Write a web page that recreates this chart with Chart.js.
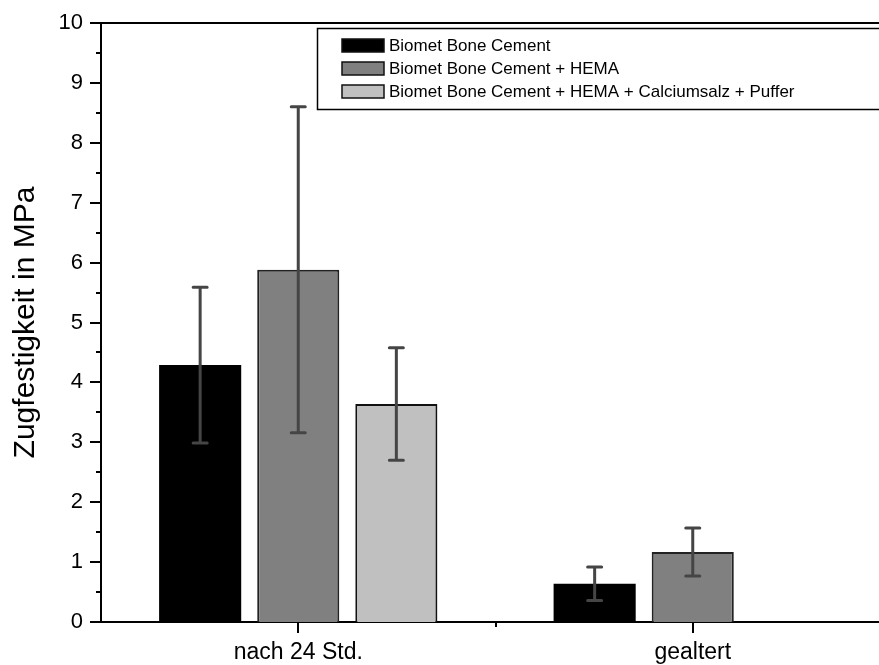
<!DOCTYPE html>
<html>
<head>
<meta charset="utf-8">
<script src="https://cdn.jsdelivr.net/npm/chart.js@4/dist/chart.umd.min.js"></script>
<style>
    html, body { margin:0; padding:0; background:#fff; overflow:hidden; }
    #wrap { width:879px; height:665px; overflow:hidden; }
</style>
</head>
<body>
<div id="wrap"><canvas id="chart" width="890" height="665"></canvas></div>
<script>
// =========================================
// Daten
// =========================================
const categories = ['nach 24 Std.', 'gealtert'];
const seriesLabels = [
    'Biomet Bone Cement',
    'Biomet Bone Cement + HEMA',
    'Biomet Bone Cement + HEMA + Calciumsalz + Puffer'
];
const boneCement = [4.29, 0.64];
const boneCementErr = [1.30, 0.28];
const hema = [5.88, 1.17];
const hemaErr = [2.72, 0.40];
const calcium = [3.64, null];
const calciumErr = [0.94, null];
const yTicks = [0, 1, 2, 3, 4, 5, 6, 7, 8, 9, 10];

const FONT = '"Liberation Sans", Arial, sans-serif';
const errors = [boneCementErr, hemaErr, calciumErr];

// =========================================
// Fehlerbalken, Achsen-Ticks, Legende
// =========================================
const extrasPlugin = {
    id: 'extras',
    afterDatasetsDraw(chart) {
        const ctx = chart.ctx;
        const y = chart.scales.y;
        ctx.save();
        ctx.strokeStyle = '#454545';
        ctx.lineWidth = 3;
        ctx.lineCap = 'round';
        chart.data.datasets.forEach((ds, i) => {
            const meta = chart.getDatasetMeta(i);
            meta.data.forEach((bar, j) => {
                const v = ds.data[j], e = errors[i][j];
                if (v === null || e === null) return;
                const x = bar.x;
                const yTop = y.getPixelForValue(v + e);
                const yBot = y.getPixelForValue(v - e);
                ctx.beginPath();
                ctx.moveTo(x, yTop); ctx.lineTo(x, yBot);
                ctx.moveTo(x - 7, yTop); ctx.lineTo(x + 7, yTop);
                ctx.moveTo(x - 7, yBot); ctx.lineTo(x + 7, yBot);
                ctx.stroke();
            });
        });
        ctx.restore();
    },
    afterDraw(chart) {
        const ctx = chart.ctx;
        const a = chart.chartArea;
        const x = chart.scales.x, y = chart.scales.y;
        ctx.save();
        ctx.strokeStyle = '#000';
        ctx.lineWidth = 2;

        // obere Rahmenlinie
        ctx.beginPath();
        ctx.moveTo(a.left, a.top); ctx.lineTo(a.right, a.top);
        ctx.stroke();

        // y-Ticks (Haupt + Zwischen)
        ctx.beginPath();
        for (let v = 0; v <= 10; v += 0.5) {
            const py = Math.round(y.getPixelForValue(v));
            const len = (v % 1 === 0) ? 11 : 5;
            ctx.moveTo(a.left - len, py); ctx.lineTo(a.left, py);
        }
        // x-Ticks
        const c0 = x.getPixelForValue(0), c1 = x.getPixelForValue(1);
        [c0, c1].forEach(px => { ctx.moveTo(Math.round(px), a.bottom); ctx.lineTo(Math.round(px), a.bottom + 11); });
        const mid = Math.round((c0 + c1) / 2);
        ctx.moveTo(mid, a.bottom); ctx.lineTo(mid, a.bottom + 5);
        ctx.stroke();

        // Legende
        const lx = 317, ly = 28, lw = 620, lh = 81;
        ctx.lineWidth = 1.5;
        ctx.strokeRect(lx + 0.5, ly + 0.5, lw, lh);
        ctx.font = '17px ' + FONT;
        ctx.textBaseline = 'middle';
        chart.data.datasets.forEach((ds, i) => {
            const ry = ly + 17 + i * 23;
            ctx.fillStyle = ds.backgroundColor;
            ctx.fillRect(342, ry - 6, 42, 13);
            ctx.strokeStyle = '#111';
            ctx.lineWidth = 1.5;
            ctx.strokeRect(342, ry - 6, 42, 13);
            ctx.fillStyle = '#000';
            ctx.fillText(ds.label, 389, ry + 1);
        });
        ctx.restore();
    }
};

const chart = new Chart(document.getElementById('chart'), {
    type: 'bar',
    data: {
        labels: categories,
        datasets: [
            { label: seriesLabels[0], data: boneCement, backgroundColor: '#000000', borderColor: '#000000', borderWidth: 0 },
            { label: seriesLabels[1], data: hema, backgroundColor: '#808080', borderColor: '#222222', borderWidth: 2 },
            { label: seriesLabels[2], data: calcium, backgroundColor: '#c0c0c0', borderColor: '#111111', borderWidth: 2 }
        ]
    },
    options: {
        responsive: false,
        animation: false,
        layout: { padding: { top: 23, left: 0, right: 0, bottom: 0 } },
        datasets: { bar: { barPercentage: 0.837, categoryPercentage: 0.746 } },
        plugins: { legend: { display: false }, tooltip: { enabled: false } },
        scales: {
            x: {
                offset: true,
                grid: { display: false, drawTicks: false },
                border: { display: true, color: '#000', width: 2 },
                ticks: { color: '#000', padding: 17, maxRotation: 0, font: { family: FONT, size: 23 } },
                afterFit: s => { s.height = 43; s.paddingLeft = 0; s.paddingRight = 0; }
            },
            y: {
                min: 0, max: 10,
                afterBuildTicks: s => { s.ticks = yTicks.map(v => ({ value: v })); },
                grid: { display: false, drawTicks: false },
                border: { display: true, color: '#000', width: 2 },
                ticks: { color: '#000', padding: 18, font: { family: FONT, size: 22 } },
                title: { display: true, text: 'Zugfestigkeit in MPa', color: '#000', padding: { top: 8, bottom: 0 }, font: { family: FONT, size: 30 } },
                afterFit: s => { s.width = 101; s.paddingTop = 0; s.paddingBottom = 0; }
            }
        }
    },
    plugins: [extrasPlugin]
});
</script>
</body>
</html>
